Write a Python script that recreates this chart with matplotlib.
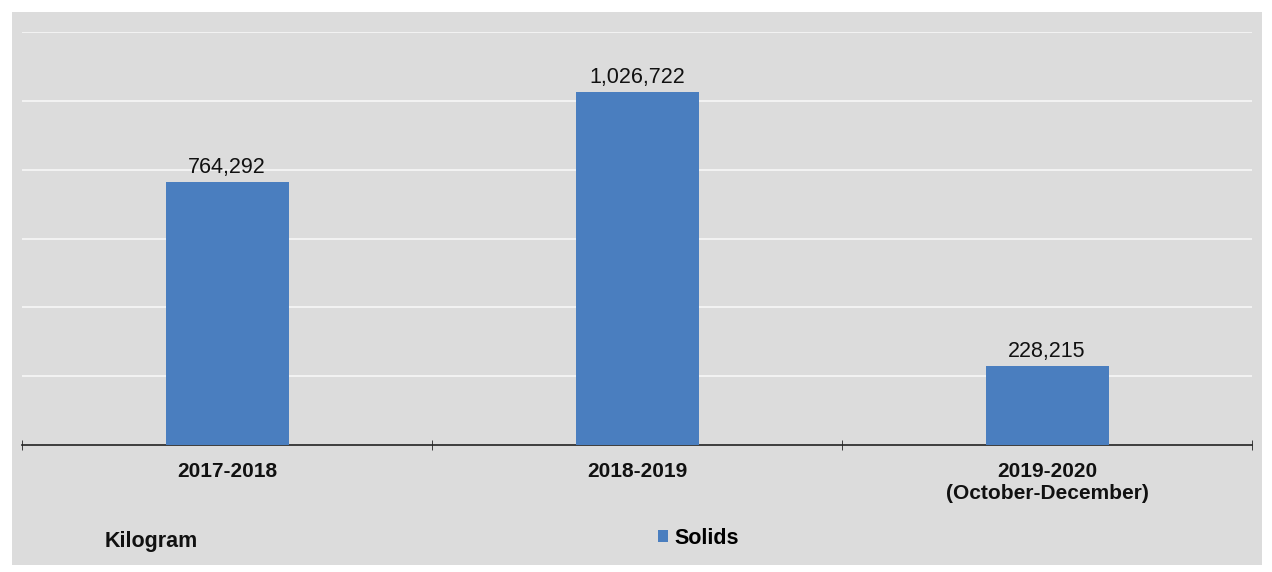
import matplotlib.pyplot as plt
from matplotlib.patches import Rectangle

# data
periods = ["2017-2018", "2018-2019", "2019-2020\n(October-December)"]
solids = [764292, 1026722, 228215]
unit = "Kilogram"
series = "Solids"

plt.rcParams['font.family'] = ['Liberation Sans', 'DejaVu Sans']

fig = plt.figure(figsize=(12.72, 5.72), dpi=100)
fig.patch.set_facecolor("white")
# grey chart panel, behind the axes
panel = Rectangle((12/1272, 7/572), 1250/1272, 553/572,
                  transform=fig.transFigure, facecolor="#dcdcdc",
                  edgecolor="none", zorder=-5)
fig.patches.append(panel)

ax = fig.add_axes([22/1272, 1-445/572, 1230/1272, 413/572])
ax.set_zorder(2)
ax.set_facecolor("none")
x = range(len(periods))
bars = ax.bar(x, solids, width=0.3, color="#4a7ebf", label=series, zorder=3)

for b, v in zip(bars, solids):
    ax.text(b.get_x() + b.get_width()/2, v + 12000, "{:,}".format(v),
            ha="center", va="bottom", fontsize=15.5, color="#111111")

ax.set_xlim(-0.5, 2.5)
ax.set_ylim(0, 1200000)
ax.set_yticks(range(200000, 1200001, 200000))
ax.yaxis.grid(True, color="#f2f2f2", linewidth=1.5, zorder=1)
ax.set_axisbelow(True)
ax.tick_params(axis="y", left=False, labelleft=False)
for s in ["top", "right", "left"]:
    ax.spines[s].set_visible(False)
ax.spines["bottom"].set_color("#222222")
ax.spines["bottom"].set_linewidth(1.2)

ax.set_xticks(list(x))
ax.set_xticklabels(periods, fontsize=15, fontweight="bold", color="#111111")
ax.tick_params(axis="x", length=0, pad=12)
ax.set_xticks([-0.5, 0.5, 1.5, 2.5], minor=True)
ax.tick_params(axis="x", which="minor", direction="inout", length=7, color="#222222")

fig.text(105/1272, 1-541/572, unit, fontsize=15.5, fontweight="bold",
         va="center", color="#111111")
fig.legend(handles=[bars], labels=[series], loc="center left",
           bbox_to_anchor=(639/1272, 1-538/572), frameon=False,
           prop={"weight": "bold", "size": 15.5},
           handlelength=0.45, handleheight=0.45, handletextpad=0.3)

fig.savefig("out.png", dpi=100)
